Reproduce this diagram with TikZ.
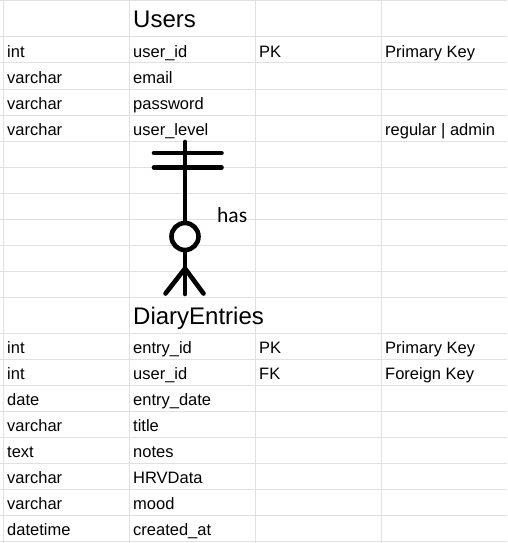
\documentclass[tikz,border=0pt]{standalone}
\usepackage{fontspec}
\setmainfont{Liberation Sans}
\newfontfamily\hasfont{Carlito}
\usepackage{tikz}
\usetikzlibrary{positioning}
\definecolor{gridgray}{HTML}{E0E0E0}
\tikzset{
  gridline/.style={draw=gridgray,line width=1pt},
  cell/.style={anchor=base west,inner sep=0pt,font=\fontsize{16.5}{19}\selectfont},
  tablename/.style={anchor=base west,inner sep=0pt,font=\fontsize{24}{28}\selectfont},
  relline/.style={line width=4.6pt,line cap=round},
}

\begin{document}
\begin{tikzpicture}[x=1pt,y=-1pt]
\useasboundingbox (0,0) rectangle (507,543);
% sheet grid
\foreach \y in {1,37,63,89,115,141,167,193,219,245,271,297,333,359,385,411,437,463,489,515,541}
  \draw[gridline] (0,\y) -- (507,\y);
\foreach \x in {3,129,255.5,381.5}
  \draw[gridline] (\x,0) -- (\x,543);
% Users table
\node[tablename] (users) at (133,28) {Users};
\foreach \y/\t/\f [count=\i] in {57/int/user\_id,83/varchar/email,109/varchar/password,135/varchar/user\_level}{
  \node[cell] (utype\i) at (7,\y) {\t};
  \node[cell] (ufield\i) at (133,\y) {\f};
}
\node[cell] (ukey) at (259,57) {PK};
\node[cell] (ukeynote) at (385,57) {Primary Key};
\node[cell] (ulevel) at (385,135) {regular | admin};
% DiaryEntries table
\node[tablename] (entries) at (133,324) {DiaryEntries};
\foreach \y/\t/\f [count=\i] in {353/int/entry\_id,379/int/user\_id,405/date/entry\_date,431/varchar/title,457/text/notes,483/varchar/HRVData,509/varchar/mood,535/datetime/created\_at}{
  \node[cell] (etype\i) at (7,\y) {\t};
  \node[cell] (efield\i) at (133,\y) {\f};
}
\node[cell] (ekey1) at (259,353) {PK};
\node[cell] (ekeynote1) at (385,353) {Primary Key};
\node[cell] (ekey2) at (259,379) {FK};
\node[cell] (ekeynote2) at (385,379) {Foreign Key};
% relationship: one and only one -- zero or many
\coordinate (one) at (185,142);
\coordinate (foot) at (185,268.5);
\coordinate (many) at (185,294);
\node[draw,circle,line width=4.6pt,fill=white,inner sep=0pt,minimum size=27pt] (zero) at (185,236.5) {};
\draw[relline] (one) -- (zero.north);
\draw[relline] (zero.south) -- (many);
\draw[relline] (154,153) -- (221.5,153);
\draw[relline] (154,167.5) -- (221.5,167.5);
\draw[relline] (foot) -- (165.5,293.5);
\draw[relline] (foot) -- (203.5,293.5);
\node[anchor=base west,inner sep=0pt,font=\hasfont\fontsize{21.5}{24}\selectfont] (has) at (217,222) {has};
\end{tikzpicture}
\end{document}
